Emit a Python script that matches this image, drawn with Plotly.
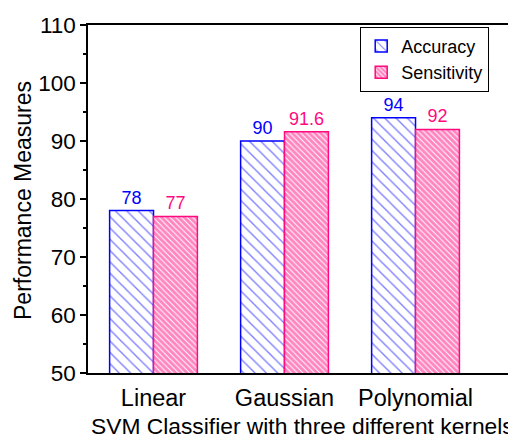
import plotly.graph_objects as go

categories = ["Linear", "Gaussian", "Polynomial"]
accuracy = [78, 90, 94]
sensitivity = [77, 91.6, 92]
y_ticks = [50, 60, 70, 80, 90, 100, 110]

BLUE = "#0000FF"
PINK = "#FF0A7F"
FONT = "Liberation Sans, Arial, sans-serif"

fig = go.Figure()
fig.add_trace(go.Bar(
    name="Accuracy", x=categories, y=accuracy,
    text=[str(v) for v in accuracy], textposition="outside",
    textfont=dict(color=BLUE, size=18, family=FONT),
    marker=dict(color="white", line=dict(color=BLUE, width=1.5),
                pattern=dict(shape="\\", fgcolor=BLUE, bgcolor="white",
                             size=8, solidity=0.17, fillmode="overlay")),
    cliponaxis=False,
))
fig.add_trace(go.Bar(
    name="Sensitivity", x=categories, y=sensitivity,
    text=[str(v) for v in sensitivity], textposition="outside",
    textfont=dict(color=PINK, size=18, family=FONT),
    marker=dict(color="white", line=dict(color=PINK, width=1.5),
                pattern=dict(shape="\\", fgcolor=PINK, bgcolor="white",
                             size=4, solidity=0.75, fillmode="overlay")),
    cliponaxis=False,
))

fig.update_layout(
    width=508, height=429,
    margin=dict(l=80, r=0, t=17, b=64),
    paper_bgcolor="white", plot_bgcolor="white",
    font=dict(family=FONT, color="black", size=22),
    barmode="group", bargap=0.33, bargroupgap=0,
    showlegend=True,
    legend=dict(x=0.636, y=0.995, xanchor="left", yanchor="top",
                bgcolor="white", bordercolor="black", borderwidth=1,
                font=dict(size=18, family=FONT), tracegroupgap=0,
                itemwidth=30),
    xaxis=dict(range=[-0.5, 2.767], showline=True, linecolor="black",
               linewidth=1.5, mirror=True, ticks="outside", ticklen=3,
               tickcolor="rgba(0,0,0,0)", showgrid=False,
               tickfont=dict(size=23.5, family=FONT)),
    yaxis=dict(range=[50, 110], tickvals=y_ticks, showline=True,
               linecolor="black", linewidth=1.5, ticks="outside",
               ticklen=6, tickwidth=1.5, tickcolor="black", showgrid=False,
               zeroline=False, tickfont=dict(size=22.5, family=FONT),
               minor=dict(dtick=5, ticks="outside", ticklen=3,
                          tickwidth=1.5, tickcolor="black", showgrid=False)),
    annotations=[
        dict(text="SVM Classifier with three different kernels",
             xref="paper", yref="paper", x=0.002, y=-0.152,
             xanchor="left", yanchor="middle", showarrow=False,
             font=dict(size=22.8, family=FONT, color="black")),
        dict(text="Performance Measures", textangle=-90,
             xref="paper", yref="paper", x=-0.152, y=0.497,
             xanchor="center", yanchor="middle", showarrow=False,
             font=dict(size=23, family=FONT, color="black")),
    ],
)

fig.write_html("out.html")
